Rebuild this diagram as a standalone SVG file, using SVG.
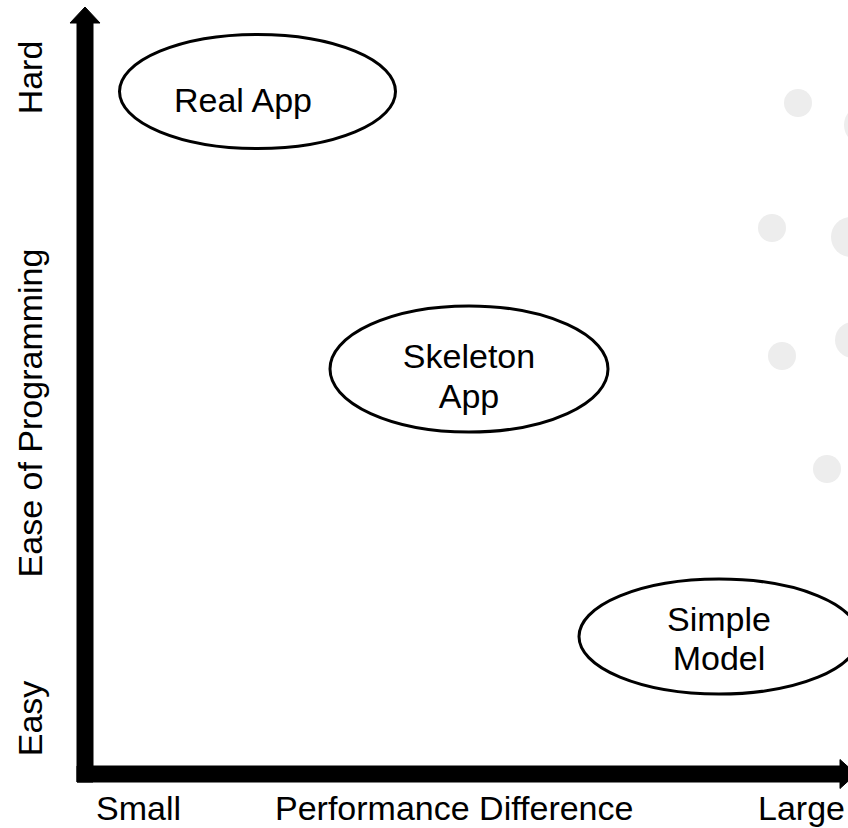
<svg xmlns="http://www.w3.org/2000/svg" width="848" height="828" viewBox="0 0 848 828">
  <style>
    .lbl { font-family: "Liberation Sans", Arial, sans-serif; font-size: 34px; fill: #000; }
    .mid { text-anchor: middle; }
    .node ellipse { fill: #fff; stroke: #000; stroke-width: 3; }
    .dot { fill: #ededed; }
    .axis { fill: #000; stroke: #000; stroke-width: 1; stroke-linejoin: round; }
  </style>
  <rect width="848" height="828" fill="#fff"/>

  <g id="background-dots">
    <circle class="dot" cx="798" cy="103" r="14"/>
    <circle class="dot" cx="864" cy="125" r="20"/>
    <circle class="dot" cx="772" cy="228" r="14"/>
    <circle class="dot" cx="851" cy="237" r="20"/>
    <circle class="dot" cx="782" cy="356" r="14"/>
    <circle class="dot" cx="853" cy="340" r="18"/>
    <circle class="dot" cx="827" cy="469" r="14"/>
  </g>

  <g id="connectors">
    <path id="y-axis" class="axis" d="M77,782 L77,23 L70,23 L85,7 L100,23 L93,23 L93,782 Z"/>
    <path id="x-axis" class="axis" d="M77,766 L840,766 L840,759.5 L856,774 L840,788.5 L840,782 L77,782 Z"/>
  </g>

  <g id="axis-labels">
    <text class="lbl mid" transform="translate(42,77.5) rotate(-90)">Hard</text>
    <text class="lbl mid" transform="translate(42,413) rotate(-90)">Ease of Programming</text>
    <text class="lbl mid" transform="translate(42,718.5) rotate(-90)">Easy</text>
    <text class="lbl" x="96" y="820">Small</text>
    <text class="lbl" x="275" y="820">Performance Difference</text>
    <text class="lbl" x="758" y="820">Large</text>
  </g>

  <g id="node-real-app" class="node">
    <ellipse cx="257.5" cy="91.5" rx="138" ry="57"/>
    <text class="lbl mid" x="243" y="112">Real App</text>
  </g>

  <g id="node-skeleton-app" class="node">
    <ellipse cx="469" cy="369" rx="139" ry="63"/>
    <text class="lbl mid" x="469" y="368">Skeleton</text>
    <text class="lbl mid" x="469" y="408">App</text>
  </g>

  <g id="node-simple-model" class="node">
    <ellipse cx="719" cy="636.5" rx="140" ry="57.5"/>
    <text class="lbl mid" x="719" y="631">Simple</text>
    <text class="lbl mid" x="719" y="670">Model</text>
  </g>
</svg>
